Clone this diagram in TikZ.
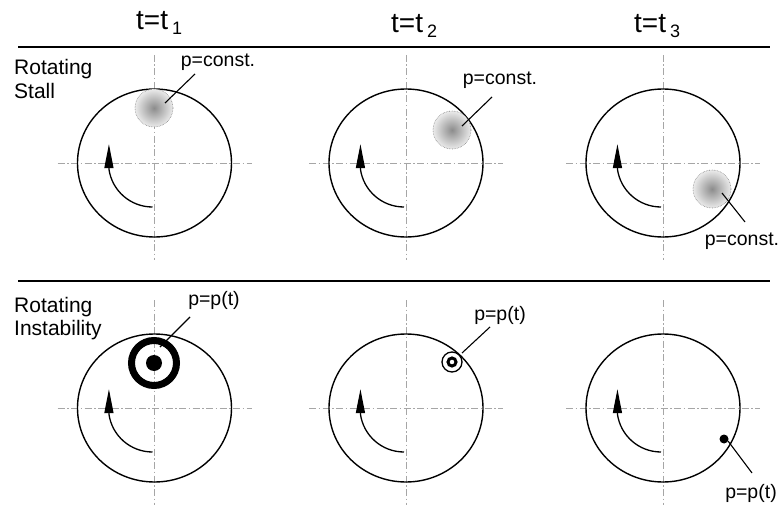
\documentclass[tikz,border=0pt]{standalone}
\usepackage{fontspec}
\setmainfont{Liberation Sans}
\usetikzlibrary{shapes.geometric,arrows.meta}
\begin{document}
\begin{tikzpicture}[x=1pt,y=-1pt,
  rotor/.style={draw, ellipse, line width=1.4pt, minimum width=154pt, minimum height=148pt, inner sep=0pt},
  axis/.style={gray!70, line width=0.9pt, dash pattern=on 7pt off 2.5pt on 1.5pt off 2.5pt},
  rulel/.style={line width=2pt},
  lbl/.style={font=\fontsize{19.5}{22}\selectfont, inner sep=0pt},
  rowlbl/.style={font=\fontsize{21}{24}\selectfont, inner sep=0pt, anchor=base west},
  ttl/.style={font=\fontsize{28}{32}\selectfont, inner sep=0pt, anchor=base west},
  subs/.style={font=\fontsize{18}{18}\selectfont},
  blob/.style={circle, minimum size=38pt, inner sep=0pt, draw=gray, densely dotted, line width=0.6pt, inner color=black!45, outer color=black!8},
  leader/.style={line width=1.1pt},
  turn/.style={line width=1.3pt, -{Triangle[length=24pt,width=9pt]}},
  thickring/.style={circle, draw, inner sep=0pt},
  dotn/.style={circle, fill, inner sep=0pt}
]
\useasboundingbox (0,0) rectangle (782,516);

% titles
\node[ttl] (t1) at (136,30) {t=t\kern4pt\raisebox{-5pt}{\fontsize{18}{18}\selectfont 1}};
\node[ttl] (t2) at (391,33) {t=t\kern4pt\raisebox{-5pt}{\fontsize{18}{18}\selectfont 2}};
\node[ttl] (t3) at (634,33) {t=t\kern4pt\raisebox{-5pt}{\fontsize{18}{18}\selectfont 3}};

% rules
\draw[rulel] (18,47) -- (770,47);
\draw[rulel] (18,281) -- (770,281);

% row labels
\node[rowlbl] (ra) at (14,75) {Rotating};
\node[rowlbl] (rb) at (14,99) {Stall};
\node[rowlbl] (rc) at (14,312) {Rotating};
\node[rowlbl] (rd) at (14,335) {Instability};

% rotors
\foreach \n/\cx/\cy in {c11/154.5/163, c12/406/163, c13/663/163, c21/154.5/408, c22/406/408, c23/663/408} {
  \draw[axis] (\cx,\cy) ++(0,-108) -- ++(0,205);
  \draw[axis] (\cx,\cy) ++(-97,0) -- ++(194,0);
  \node[rotor] (\n) at (\cx,\cy) {};
  \draw[turn] (\n.center) ++(-2,44) arc[start angle=90, end angle=172, radius=44] -- ++(0,-25);
}

% rotating stall blobs
\node[blob] (b1) at (154,108) {};
\node[blob] (b2) at (452,130) {};
\node[blob] (b3) at (712,189) {};
\node[lbl] (p1) at (218,62) {p=const.};
\node[lbl] (p2) at (500,80) {p=const.};
\node[lbl] (p3) at (742,241) {p=const.};
\coordinate (a1) at (165,103); \coordinate (e1) at (195,74);
\coordinate (a2) at (462,126); \coordinate (e2) at (492,97);
\coordinate (a3) at (722,193); \coordinate (e3) at (745,222);
\draw[leader] (a1) -- (e1);
\draw[leader] (a2) -- (e2);
\draw[leader] (a3) -- (e3);

% rotating instability
\node[thickring, line width=7pt, minimum size=45pt] (s1) at (154,363) {};
\node[dotn, minimum size=16pt] (s1d) at (154,363) {};
\node[thickring, line width=1.3pt, minimum size=20pt] (s2) at (452,362) {};
\node[thickring, line width=3pt, minimum size=8pt] (s2i) at (452,362) {};
\node[dotn, minimum size=9pt] (s3) at (724,439) {};
\node[lbl] (q1) at (214,300) {p=p(t)};
\node[lbl] (q2) at (500,315) {p=p(t)};
\node[lbl] (q3) at (751,493) {p=p(t)};
\coordinate (f1) at (160,347); \coordinate (g1) at (190,317);
\coordinate (f2) at (462,353); \coordinate (g2) at (490,327);
\coordinate (f3) at (728,441); \coordinate (g3) at (752,473);
\draw[leader] (f1) -- (g1);
\draw[leader] (f2) -- (g2);
\draw[leader] (f3) -- (g3);
\end{tikzpicture}
\end{document}
